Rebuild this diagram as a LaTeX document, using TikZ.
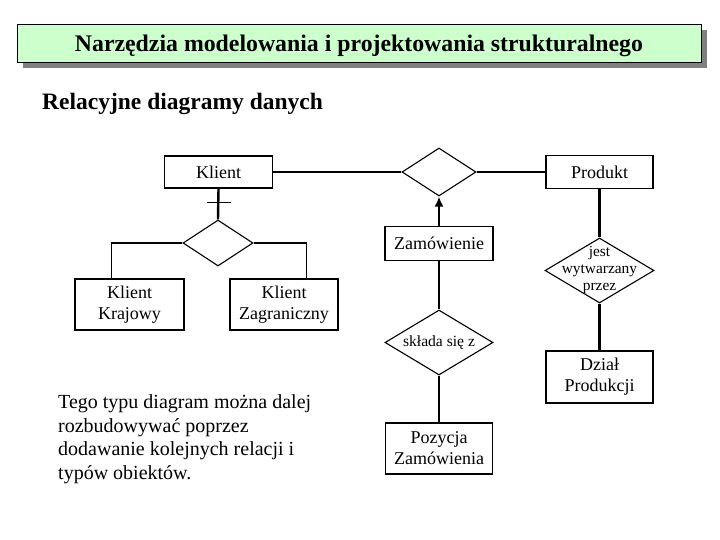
\documentclass[tikz,border=0pt]{standalone}
\usepackage{fontspec}
\setmainfont{Liberation Serif}
\usetikzlibrary{arrows.meta,calc,shapes.geometric}
\definecolor{titlegreen}{RGB}{204,255,204}
\colorlet{shadowgray}{black!50}

\begin{document}
\begin{tikzpicture}[x=1pt,y=-1pt,>=Latex,
  ent/.style={draw,line width=1.4pt,inner sep=0pt,align=center,font=\fontsize{18}{21}\selectfont},
  rel/.style={draw,diamond,line width=1.1pt,inner sep=0pt},
  rellabel/.style={align=center,inner sep=0pt},
  conn/.style={line width=2.4pt},
  link/.style={line width=1.6pt}]
\fill[white] (0,0) rectangle (720,540);
\useasboundingbox (0,0) rectangle (720,540);
% title bar with shadow
\fill[shadowgray] (23,30) rectangle (707,68);
\filldraw[fill=titlegreen,draw=black,line width=0.6pt] (17,24) rectangle (701,62);
\node[font=\bfseries\fontsize{23.8}{26}\selectfont,anchor=base] (title) at (359,52) {Narzędzia modelowania i projektowania strukturalnego};
\node[font=\bfseries\fontsize{23.5}{25}\selectfont,anchor=base west,inner sep=0pt] (subtitle) at (42,110) {Relacyjne diagramy danych};
% entities
\node[ent,minimum width=108,minimum height=32] (klient) at (218.5,172) {Klient};
\node[ent,minimum width=107,minimum height=33] (produkt) at (599.5,172) {Produkt};
\node[ent,minimum width=108,minimum height=34] (zamow) at (439,243.5) {Zamówienie};
\node[ent,minimum width=107,minimum height=51] (pozycja) at (439,448.5) {Pozycja\\Zamówienia};
\node[ent,minimum width=109,minimum height=51] (kkraj) at (129.5,304.5) {Klient\\Krajowy};
\node[ent,minimum width=108,minimum height=51] (kzagr) at (284,304.5) {Klient\\Zagraniczny};
\node[ent,minimum width=107,minimum height=52] (dzial) at (599.5,377) {Dział\\Produkcji};
% relations
\node[rel,minimum width=74,minimum height=48] (zamrel) at (439,172) {};
\node[rel,minimum width=70,minimum height=46] (kdiam) at (218,243) {};
\node[rel,minimum width=109,minimum height=65,
  label={[rellabel,font=\fontsize{15.4}{17}\selectfont]center:{jest\\wytwarzany\\przez}}] (jest) at (599.5,270.5) {};
\node[rel,minimum width=108,minimum height=65,
  label={[rellabel,font=\fontsize{15.6}{17}\selectfont]center:{składa się z}}] (sklada) at (439,342.5) {};
% connectors
\draw[link] (klient.east) -- (zamrel.west);
\draw[link] (zamrel.east) -- (produkt.west);
\draw[conn] (klient.south) -- (kdiam.north);
\draw[link] ($(klient.south)+(-12,14)$) -- ++(24,0);
\draw[link] (kdiam.west) -| ($(kkraj.north west)+(37,0)$);
\draw[link] (kdiam.east) -| ($(kzagr.north west)+(77,0)$);
\draw[conn,-{Latex[length=10pt,width=9pt]}] (zamow.north) -- (zamrel.south);
\draw[conn] (zamow.south) -- (sklada.north);
\draw[conn] (sklada.south) -- (pozycja.north);
\draw[conn] (produkt.south) -- (jest.north);
\draw[conn] (jest.south) -- (dzial.north);
% note
\node[anchor=west,align=left,inner sep=0pt,font=\fontsize{20}{23.5}\selectfont] (opis) at (58,439)
  {Tego typu diagram można dalej\\rozbudowywać poprzez\\dodawanie kolejnych relacji i\\typów obiektów.};
\end{tikzpicture}
\end{document}
